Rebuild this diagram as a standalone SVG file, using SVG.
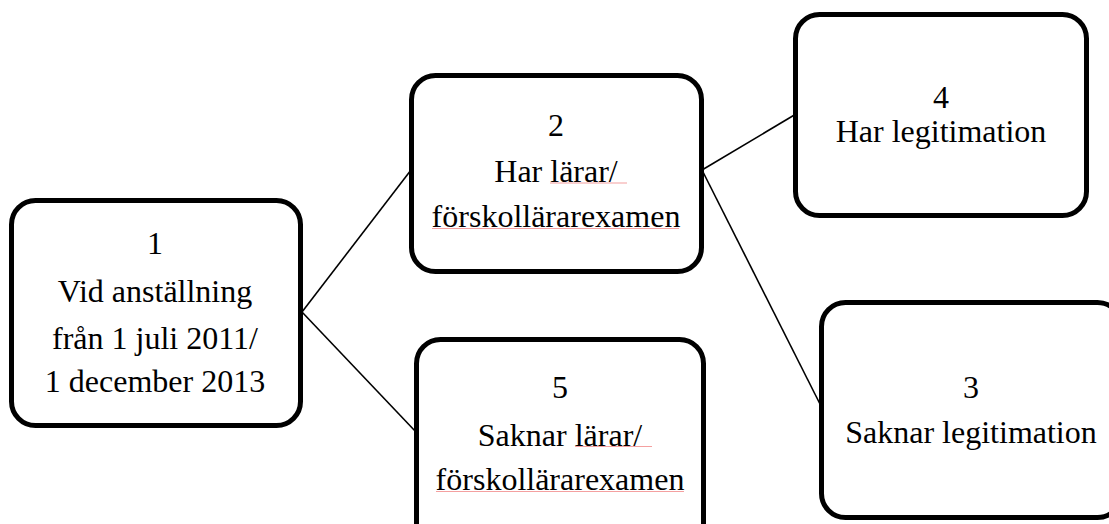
<svg xmlns="http://www.w3.org/2000/svg" width="1109" height="524" viewBox="0 0 1109 524">
<style>
.box{fill:#fff;stroke:#000;stroke-width:5}
.t{font-family:"Liberation Serif","Times New Roman",serif;font-size:32px;fill:#000;text-anchor:middle}
.c{stroke:#000;stroke-width:1.6;fill:none}
.sq{stroke:#f4a0a0;stroke-width:1.2}
</style>
<rect width="1109" height="524" fill="#fff"/>
<g id="connectors">
<line class="c" x1="302" y1="312" x2="411" y2="170"/>
<line class="c" x1="302" y1="312" x2="416" y2="432"/>
<line class="c" x1="702" y1="170" x2="796" y2="114"/>
<line class="c" x1="702" y1="170" x2="822" y2="408"/>
</g>
<g id="node1">
<rect class="box" x="11.5" y="200.5" width="289" height="225" rx="24"/>
<text class="t" x="155" y="254">1</text>
<text class="t" x="155" y="302">Vid anställning</text>
<text class="t" x="155" y="349">från 1 juli 2011/</text>
<text class="t" x="155" y="392">1 december 2013</text>
</g>
<g id="node2">
<rect class="box" x="411.5" y="75.5" width="290" height="196" rx="24"/>
<text class="t" x="556" y="136">2</text>
<text class="t" x="556" y="182">Har lärar/</text>
<text class="t" x="556" y="227">förskollärarexamen</text>
<line class="sq" x1="550" y1="183" x2="627" y2="183"/>
<line class="sq" x1="432" y1="228.5" x2="679" y2="228.5"/>
</g>
<g id="node5">
<rect class="box" x="416.5" y="339.5" width="287" height="210" rx="24"/>
<text class="t" x="560" y="398">5</text>
<text class="t" x="560" y="446">Saknar lärar/</text>
<text class="t" x="560" y="490">förskollärarexamen</text>
<line class="sq" x1="575" y1="446.5" x2="652" y2="446.5"/>
<line class="sq" x1="436" y1="491.5" x2="684" y2="491.5"/>
</g>
<g id="node4">
<rect class="box" x="795.5" y="14.5" width="291" height="201" rx="24"/>
<text class="t" x="941" y="108">4</text>
<text class="t" x="941" y="142">Har legitimation</text>
</g>
<g id="node3">
<rect class="box" x="821.5" y="302.5" width="300" height="215" rx="24"/>
<text class="t" x="971" y="398">3</text>
<text class="t" x="971" y="443">Saknar legitimation</text>
</g>
</svg>
